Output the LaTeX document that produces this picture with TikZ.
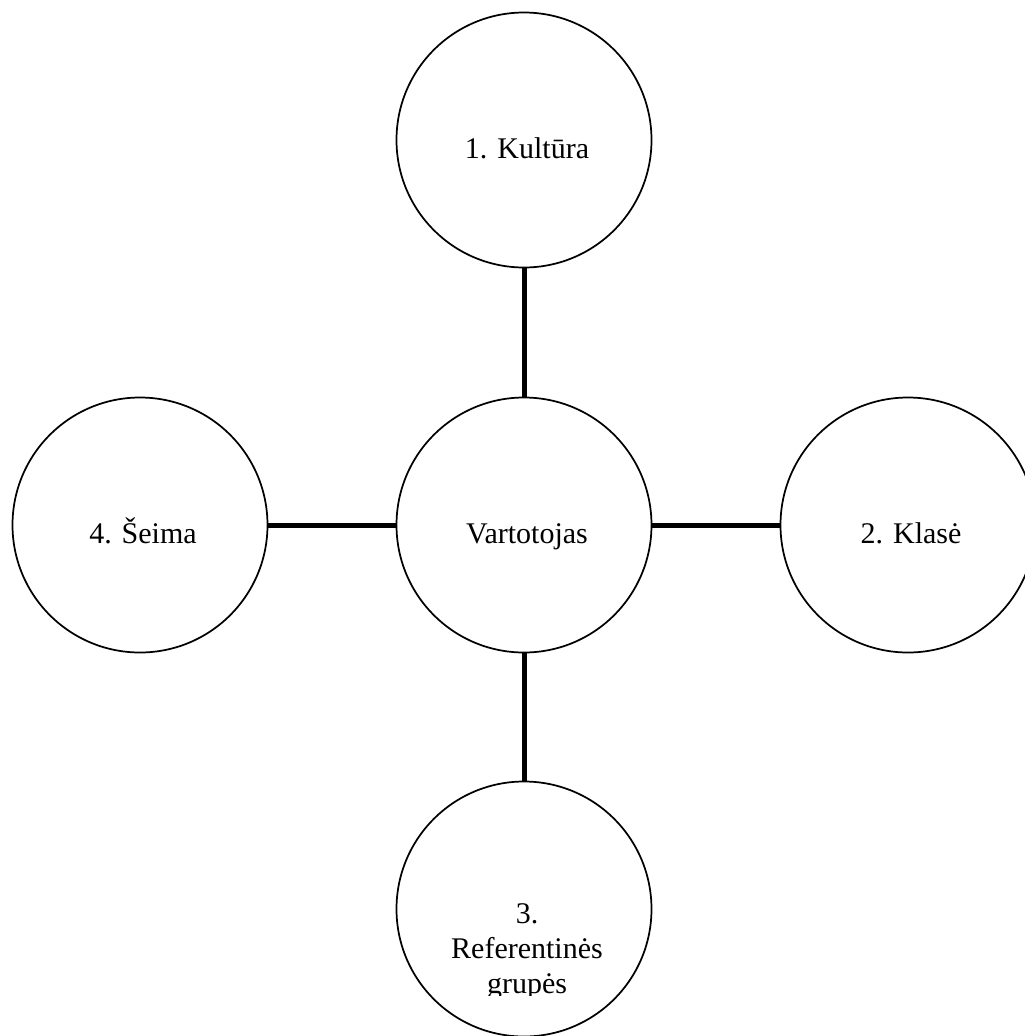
\documentclass[tikz,border=0pt]{standalone}
\usepackage{fontspec}
\setmainfont{Liberation Serif}
\begin{document}
\begin{tikzpicture}[x=0.75pt,y=-0.75pt,
  factor/.style={circle,draw=black,line width=1.3pt,minimum size=191.25pt,inner sep=0pt,fill=white},
  caption/.style={anchor=base,inner sep=0pt,font=\fontsize{22.5}{26.25}\selectfont,align=center},
  link/.style={line width=3.75pt}]
  \useasboundingbox (0,0) rectangle (1025,1036);
  \clip (0,0) rectangle (1025,1036);

  % circles
  \node[factor] (mid)    at (524,525) {};
  \node[factor] (kult)   at (524,140) {};
  \node[factor] (klase)  at (908,525) {};
  \node[factor] (grupes) at (524,909) {};
  \node[factor] (seima)  at (140,525) {};

  % connectors from the consumer to each factor
  \draw[link] (kult) -- (mid);
  \draw[link] (mid) -- (klase);
  \draw[link] (mid) -- (grupes);
  \draw[link] (seima) -- (mid);

  % labels
  \node[caption] (tmid)   at (527,543) {Vartotojas};
  \node[caption] (tkult)  at (527,158) {1. Kultūra};
  \node[caption] (tklase) at (911,543) {2. Klasė};
  \node[caption] (tseima) at (143,543) {4. Šeima};
  % the last line of this label is cut off just below its baseline
  \begin{scope}
    \clip (0,0) rectangle (1025,995.5);
    \node[caption] (tgrupes) at (527,993.5) {3.\\Referentinės\\grupės};
  \end{scope}
\end{tikzpicture}
\end{document}
